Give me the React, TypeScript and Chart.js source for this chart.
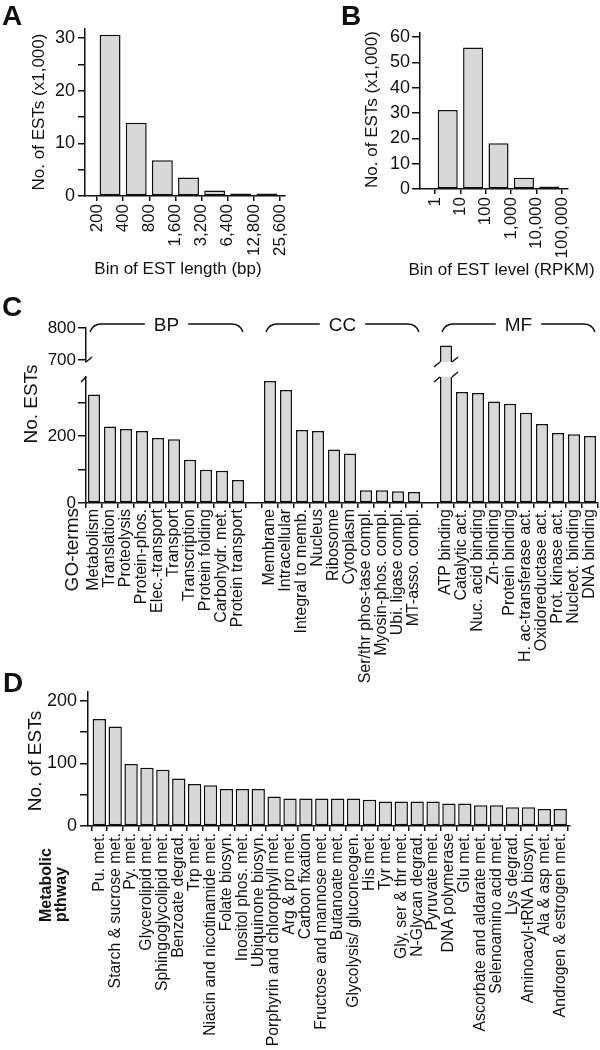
import React, { useEffect, useRef } from 'react';
import { Chart, registerables } from 'chart.js';

Chart.register(...registerables);

const FONT = '"Liberation Sans", Arial, Helvetica, sans-serif';
const INK = '#111111';
const BAR_FILL = '#d8d8d8';
Chart.defaults.font.family = FONT;
Chart.defaults.color = INK;

// ---------- Panel A : EST length ----------
const A_BIN_EDGES = ['200', '400', '800', '1,600', '3,200', '6,400', '12,800', '25,600'];
const A_COUNTS = [30.6, 13.9, 6.8, 3.5, 1.05, 0.2, 0.2]; // x1,000
const A_Y_TICKS = [0, 5, 10, 15, 20, 25, 30];
const A_Y_LABELS = [0, 10, 20, 30];

// ---------- Panel B : EST level ----------
const B_BIN_EDGES = ['1', '10', '100', '1,000', '10,000', '100,000'];
const B_COUNTS = [31.2, 55.9, 18.1, 4.4, 0.5]; // x1,000
const B_Y_TICKS = [0, 10, 20, 30, 40, 50, 60];

// ---------- Panel C : GO terms ----------
const C_BP_TERMS = ['Metabolism', 'Translation', 'Proteolysis', 'Protein-phos.', 'Elec.-transport', 'Transport', 'Transcription', 'Protein folding', 'Carbohydr. met.', 'Protein transport'];
const C_BP_COUNTS = [324, 228, 221, 215, 194, 190, 129, 99, 96, 69];
const C_CC_TERMS = ['Membrane', 'Intracellular', 'Integral to memb.', 'Nucleus', 'Ribosome', 'Cytoplasm', 'Ser/thr phos-tase compl.', 'Myosin-phos. compl.', 'Ubi. ligase compl.', 'MT-asso. compl.'];
const C_CC_COUNTS = [364, 337, 218, 215, 160, 148, 38, 38, 35, 33];
const C_MF_TERMS = ['ATP binding', 'Catalytic act.', 'Nuc. acid binding', 'Zn-binding', 'Protein binding', 'H. ac-transferase act.', 'Oxidoreductase act.', 'Prot. kinase act.', 'Nucleot. binding', 'DNA binding'];
const C_MF_COUNTS = [745, 331, 328, 303, 296, 269, 236, 209, 205, 200];
const C_GROUP_NAMES = ['BP', 'CC', 'MF'];
const C_LOW_Y_TICKS = [0, 100, 200, 300];
const C_LOW_Y_LABELS = [0, 200];
const C_HIGH_Y_TICKS = [700, 800];
const C_LOW_MAX = 376;
const C_HIGH_MIN = 693.75;
const C_HIGH_MAX = 800;

// ---------- Panel D : metabolic pathways ----------
const D_PATHWAYS = ['Pu. met.', 'Starch & sucrose met.', 'Py. met.', 'Glycerolipid met.', 'Sphingoglycolipid met.', 'Benzoate degrad.', 'Trp met.', 'Niacin and nicotinamide met.', 'Folate biosyn.', 'Inositol phos. met.', 'Ubiquinone biosyn.', 'Porphyrin and chlorophyll met.', 'Arg & pro met.', 'Carbon fixation', 'Fructose and mannose met.', 'Butanoate met.', 'Glycolysis/ gluconeogen.', 'His met.', 'Tyr met.', 'Gly, ser & thr met.', 'N-Glycan degrad.', 'Pyruvate met.', 'DNA polymerase', 'Glu met.', 'Ascorbate and aldarate met.', 'Selenoamino acid met.', 'Lys degrad.', 'Aminoacyl-tRNA biosyn.', 'Ala & asp met.', 'Androgen & estrogen met.'];
const D_COUNTS = [171, 159, 99, 93, 90, 76, 67, 65, 59, 59, 59, 47, 44, 44, 44, 44, 44, 42, 39, 39, 39, 39, 36, 36, 33, 33, 30, 30, 27, 27];
const D_Y_TICKS = [0, 50, 100, 150, 200];
const D_Y_LABELS = [0, 100, 200];

// ---------- derived tables ----------
const C_TERMS = [...C_BP_TERMS, '', ...C_CC_TERMS, '', ...C_MF_TERMS];
const C_COUNTS: (number | null)[] = [...C_BP_COUNTS, null, ...C_CC_COUNTS, null, ...C_MF_COUNTS];
const C_POINTS = C_COUNTS.map((v, i) => (v === null ? null : { x: i, y: v })).filter((p) => p !== null) as { x: number; y: number }[];
const C_GROUPS = (() => {
  const sizes = [C_BP_TERMS.length, C_CC_TERMS.length, C_MF_TERMS.length];
  let start = 0;
  return sizes.map((n, g) => {
    const grp = { name: C_GROUP_NAMES[g], from: start, to: start + n - 1 };
    start += n + 1;
    return grp;
  });
})();

// ---------- helpers ----------
type Txt = { t: string; x: number; y: number; rot?: boolean; size: number; bold?: boolean; align?: CanvasTextAlign; base?: CanvasTextBaseline };

function textPlugin(id: string, ox: number, oy: number, items: Txt[]) {
  return {
    id,
    afterDraw(chart: any) {
      const ctx = chart.ctx;
      for (const it of items) {
        ctx.save();
        ctx.translate(it.x - ox, it.y - oy);
        if (it.rot) ctx.rotate(-Math.PI / 2);
        ctx.font = `${it.bold ? 'bold ' : ''}${it.size}px ${FONT}`;
        ctx.fillStyle = INK;
        ctx.textAlign = it.align || 'center';
        ctx.textBaseline = it.base || 'middle';
        ctx.fillText(it.t, 0, 0);
        ctx.restore();
      }
    },
  };
}

function yAxis(o: { width: number; min: number; max: number; ticks: number[]; labels: number[]; tickLength: number; padding: number; size: number }) {
  return {
    type: 'linear',
    min: o.min,
    max: o.max,
    bounds: 'data',
    afterBuildTicks: (s: any) => {
      s.ticks = o.ticks.map((v) => ({ value: v }));
    },
    afterFit: (s: any) => {
      s.width = o.width;
      s.paddingTop = 0;
      s.paddingBottom = 0;
    },
    grid: { display: true, drawOnChartArea: false, drawTicks: true, tickLength: o.tickLength, color: INK, lineWidth: 1.5 },
    border: { display: true, color: INK, width: 1.5 },
    ticks: {
      padding: o.padding,
      color: INK,
      font: { size: o.size, family: FONT },
      callback: (v: any) => (o.labels.includes(v) ? String(v) : ''),
    },
  };
}

function xAxis(o: { height: number; min: number; max: number; count: number; label: (i: number) => string; size: number; padding: number; offsetGrid: boolean; hidden?: boolean }) {
  return {
    type: 'linear',
    min: o.min,
    max: o.max,
    bounds: 'data',
    offset: false,
    afterBuildTicks: (s: any) => {
      s.ticks = Array.from({ length: o.count }, (_, i) => ({ value: i }));
    },
    afterFit: (s: any) => {
      s.height = o.height;
      s.paddingLeft = 0;
      s.paddingRight = 0;
    },
    grid: { display: !o.hidden, offset: o.offsetGrid, drawOnChartArea: false, drawTicks: true, tickLength: 5, color: INK, lineWidth: 1.5 },
    border: { display: !o.hidden, color: INK, width: 1.5 },
    ticks: {
      display: !o.hidden,
      autoSkip: false,
      minRotation: 90,
      maxRotation: 90,
      padding: o.padding,
      color: INK,
      font: { size: o.size, family: FONT },
      callback: (v: any) => o.label(v),
    },
  };
}

function barDataset(points: { x: number; y: number }[], barPercentage: number) {
  return {
    data: points,
    backgroundColor: BAR_FILL,
    borderColor: INK,
    borderWidth: 1.5,
    borderSkipped: false,
    barPercentage,
    categoryPercentage: 1,
    minBarLength: 2.5,
    clip: 0,
  };
}

function baseOptions(padding: any, scales: any) {
  return {
    responsive: false,
    maintainAspectRatio: false,
    animation: false,
    devicePixelRatio: 1,
    layout: { padding },
    plugins: { legend: { display: false }, tooltip: { enabled: false }, title: { display: false } },
    events: [],
    scales,
  };
}

function line(ctx: CanvasRenderingContext2D, x1: number, y1: number, x2: number, y2: number) {
  ctx.beginPath();
  ctx.moveTo(x1, y1);
  ctx.lineTo(x2, y2);
  ctx.stroke();
}

// ---------- chart configs ----------
const POS_A = { left: 0, top: 0, width: 300, height: 290 };
const POS_B = { left: 300, top: 0, width: 300, height: 290 };
const POS_CH = { left: 0, top: 290, width: 600, height: 80 };
const POS_CL = { left: 0, top: 365, width: 600, height: 330 };
const POS_D = { left: 0, top: 620, width: 600, height: 430 };

function configA(): any {
  return {
    type: 'bar',
    data: { datasets: [barDataset(A_COUNTS.map((v, i) => ({ x: i + 0.5, y: v })), 0.8)] },
    options: baseOptions({ left: 0, top: 29, right: 15, bottom: 0 }, {
      x: xAxis({ height: 94, min: -0.459, max: 7.191, count: A_BIN_EDGES.length, label: (i) => A_BIN_EDGES[i] ?? '', size: 17, padding: 3, offsetGrid: false }),
      y: yAxis({ width: 85, min: 0, max: 31.7, ticks: A_Y_TICKS, labels: A_Y_LABELS, tickLength: 7, padding: 3, size: 18 }),
    }),
    plugins: [
      textPlugin('txtA', POS_A.left, POS_A.top, [
        { t: 'A', x: 2, y: 25, size: 28, bold: true, align: 'left', base: 'alphabetic' },
        { t: 'No. of ESTs (x1,000)', x: 39.5, y: 112, rot: true, size: 17 },
        { t: 'Bin of EST length (bp)', x: 178, y: 269, size: 17 },
      ]),
    ],
  };
}

function configB(): any {
  return {
    type: 'bar',
    data: { datasets: [barDataset(B_COUNTS.map((v, i) => ({ x: i + 0.5, y: v })), 0.79)] },
    options: baseOptions({ left: 0, top: 33, right: 32, bottom: 0 }, {
      x: xAxis({ height: 101, min: -0.591, max: 5.236, count: B_BIN_EDGES.length, label: (i) => B_BIN_EDGES[i] ?? '', size: 17, padding: 3, offsetGrid: false }),
      y: yAxis({ width: 120, min: 0, max: 61.6, ticks: B_Y_TICKS, labels: B_Y_TICKS, tickLength: 8, padding: 2, size: 18 }),
    }),
    plugins: [
      textPlugin('txtB', POS_B.left, POS_B.top, [
        { t: 'B', x: 341, y: 25, size: 28, bold: true, align: 'left', base: 'alphabetic' },
        { t: 'No. of ESTs (x1,000)', x: 372.5, y: 109.5, rot: true, size: 17 },
        { t: 'Bin of EST level (RPKM)', x: 501.5, y: 270, size: 17 },
      ]),
    ],
  };
}

function configCHigh(): any {
  return {
    type: 'bar',
    data: { datasets: [barDataset(C_POINTS, 0.75)] },
    options: baseOptions({ left: 0, top: 38, right: 2, bottom: 8 }, {
      x: xAxis({ height: 0, min: -0.5, max: C_TERMS.length - 0.5, count: C_TERMS.length, label: () => '', size: 16, padding: 1, offsetGrid: true, hidden: true }),
      y: yAxis({ width: 86, min: C_HIGH_MIN, max: C_HIGH_MAX, ticks: C_HIGH_Y_TICKS, labels: C_HIGH_Y_TICKS, tickLength: 8, padding: 2, size: 17 }),
    }),
    plugins: [
      textPlugin('txtC', POS_CH.left, POS_CH.top, [
        { t: 'C', x: 2, y: 316, size: 28, bold: true, align: 'left', base: 'alphabetic' },
      ]),
      {
        id: 'cHighDecor',
        afterDraw(chart: any) {
          const { ctx, chartArea } = chart;
          const xs = chart.scales.x;
          ctx.save();
          ctx.strokeStyle = INK;
          ctx.lineWidth = 1.5;
          // group brackets
          const yl = 34;
          const drop = 8;
          ctx.font = `19px ${FONT}`;
          ctx.fillStyle = INK;
          ctx.textAlign = 'center';
          ctx.textBaseline = 'middle';
          for (const g of C_GROUPS) {
            const x0 = xs.getPixelForValue(g.from - 0.5) + 4;
            const x1 = xs.getPixelForValue(g.to + 0.5) - 3;
            const xm = (x0 + x1) / 2;
            const gap = ctx.measureText(g.name).width / 2 + 9;
            ctx.beginPath();
            ctx.moveTo(x0, yl + drop);
            ctx.quadraticCurveTo(x0 + 3, yl, x0 + 11, yl);
            ctx.lineTo(xm - gap, yl);
            ctx.moveTo(xm + gap, yl);
            ctx.lineTo(x1 - 11, yl);
            ctx.quadraticCurveTo(x1 - 3, yl, x1, yl + drop);
            ctx.stroke();
            ctx.fillText(g.name, xm, yl + 2);
          }
          // break marks
          const b = chartArea.bottom;
          line(ctx, chartArea.left, b, chartArea.left + 6, b - 5);
          const meta = chart.getDatasetMeta(0);
          meta.data.forEach((el: any, k: number) => {
            if (C_POINTS[k].y > C_LOW_MAX) {
              const L = el.x - el.width / 2;
              const R = el.x + el.width / 2;
              line(ctx, L - 6, b + 5, L, b);
              line(ctx, R, b, R + 6, b - 5);
            }
          });
          ctx.restore();
        },
      },
    ],
  };
}

function configCLow(): any {
  return {
    type: 'bar',
    data: { datasets: [barDataset(C_POINTS, 0.75)] },
    options: baseOptions({ left: 0, top: 12, right: 2, bottom: 0 }, {
      x: xAxis({ height: 192, min: -0.5, max: C_TERMS.length - 0.5, count: C_TERMS.length, label: (i) => C_TERMS[i] ?? '', size: 16, padding: 1, offsetGrid: true }),
      y: yAxis({ width: 86, min: 0, max: C_LOW_MAX, ticks: C_LOW_Y_TICKS, labels: C_LOW_Y_LABELS, tickLength: 8, padding: 2, size: 17 }),
    }),
    plugins: [
      textPlugin('txtCL', POS_CL.left, POS_CL.top, [
        { t: 'No. ESTs', x: 32, y: 404, rot: true, size: 19 },
        { t: 'GO-terms', x: 72.5, y: 508, rot: true, size: 19, align: 'right' },
      ]),
      {
        id: 'cLowDecor',
        afterDraw(chart: any) {
          const { ctx, chartArea } = chart;
          ctx.save();
          ctx.strokeStyle = INK;
          ctx.lineWidth = 1.5;
          const t = chartArea.top;
          line(ctx, chartArea.left - 5, t + 5, chartArea.left, t);
          const meta = chart.getDatasetMeta(0);
          meta.data.forEach((el: any, k: number) => {
            if (C_POINTS[k].y > C_LOW_MAX) {
              const L = el.x - el.width / 2;
              const R = el.x + el.width / 2;
              line(ctx, L - 6, t + 5, L, t);
              line(ctx, R, t, R + 6, t - 5);
            }
          });
          ctx.restore();
        },
      },
    ],
  };
}

function configD(): any {
  return {
    type: 'bar',
    data: { datasets: [barDataset(D_COUNTS.map((v, i) => ({ x: i, y: v })), 0.84)] },
    options: baseOptions({ left: 0, top: 72, right: 30, bottom: 0 }, {
      x: xAxis({ height: 224, min: -0.711, max: 29.617, count: D_PATHWAYS.length, label: (i) => D_PATHWAYS[i] ?? '', size: 15.8, padding: 2, offsetGrid: true }),
      y: yAxis({ width: 88, min: 0, max: 214, ticks: D_Y_TICKS, labels: D_Y_LABELS, tickLength: 8, padding: 3, size: 18 }),
    }),
    plugins: [
      textPlugin('txtD', POS_D.left, POS_D.top, [
        { t: 'D', x: 3, y: 692, size: 28, bold: true, align: 'left', base: 'alphabetic' },
        { t: 'No. of ESTs', x: 36, y: 761, rot: true, size: 19 },
        { t: 'Metabolic', x: 46.5, y: 922, rot: true, size: 16, bold: true, align: 'left' },
        { t: 'pthway', x: 61.5, y: 922, rot: true, size: 16, bold: true, align: 'left' },
      ]),
    ],
  };
}

function ChartBox({ pos, config }: { pos: { left: number; top: number; width: number; height: number }; config: () => any }) {
  const ref = useRef<HTMLCanvasElement>(null);
  useEffect(() => {
    const chart = new Chart(ref.current as HTMLCanvasElement, config());
    return () => chart.destroy();
  }, []);
  return (
    <canvas
      ref={ref}
      width={pos.width}
      height={pos.height}
      style={{ position: 'absolute', left: pos.left, top: pos.top, width: pos.width, height: pos.height }}
    />
  );
}

export default function App() {
  return (
    <div style={{ position: 'absolute', left: 0, top: 0, width: 600, height: 1050, background: '#ffffff', overflow: 'hidden' }}>
      <ChartBox pos={POS_A} config={configA} />
      <ChartBox pos={POS_B} config={configB} />
      <ChartBox pos={POS_CH} config={configCHigh} />
      <ChartBox pos={POS_CL} config={configCLow} />
      <ChartBox pos={POS_D} config={configD} />
    </div>
  );
}
